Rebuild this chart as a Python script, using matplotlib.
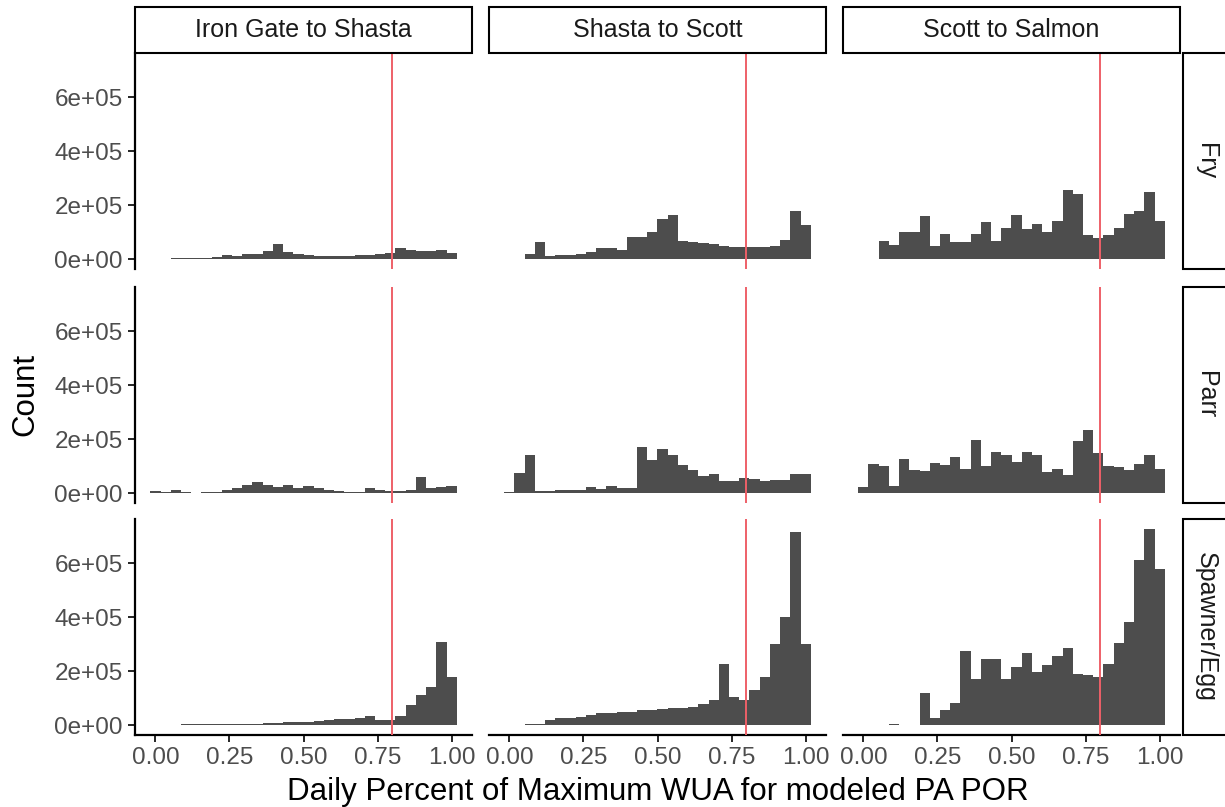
import numpy as np
import matplotlib
matplotlib.use("Agg")
import matplotlib.pyplot as plt
from matplotlib.patches import Rectangle

plt.rcParams['font.family'] = ['Liberation Sans', 'DejaVu Sans']

# ---- data: daily counts per histogram bin (30 bins over 0..1) ----
N_BINS = 30
reaches = ["Iron Gate to Shasta", "Shasta to Scott", "Scott to Salmon"]
life_stages = ["Fry", "Parr", "Spawner/Egg"]
threshold = 0.80
x_ticks = [0.00, 0.25, 0.50, 0.75, 1.00]
x_tick_labels = ["0.00", "0.25", "0.50", "0.75", "1.00"]
y_ticks = [0, 200000, 400000, 600000]
y_tick_labels = ["0e+00", "2e+05", "4e+05", "6e+05"]

fry_iron_gate = [0, 2000, 3000, 4000, 5000, 6000, 7000, 15000, 12000, 18000,
                 20000, 30000, 58000, 27000, 20000, 15000, 12000, 10000, 10000, 12000,
                 15000, 17000, 18000, 22000, 42000, 35000, 30000, 30000, 33000, 22000]
fry_shasta = [0, 2000, 18000, 65000, 12000, 14000, 17000, 20000, 25000, 43000,
              43000, 35000, 84000, 84000, 100000, 148000, 164000, 68000, 64000, 60000,
              55000, 50000, 46000, 46000, 46000, 47000, 50000, 70000, 180000, 126000]
fry_scott = [0, 2000, 68000, 52000, 101000, 101000, 160000, 49000, 93000, 62000,
             62000, 95000, 136000, 68000, 115000, 163000, 111000, 132000, 99000, 142000,
             256000, 241000, 89000, 80000, 89000, 114000, 167000, 177000, 249000, 140000]

parr_iron_gate = [7000, 5000, 11000, 3000, 2000, 3000, 6000, 12000, 18000, 32000,
                  42000, 32000, 23000, 30000, 20000, 27000, 19000, 12000, 7000, 5000,
                  5000, 20000, 10000, 8000, 8000, 10000, 59000, 20000, 22000, 26000]
parr_shasta = [5000, 75000, 143000, 8000, 8000, 10000, 10000, 12000, 23000, 17000,
               26000, 20000, 20000, 170000, 122000, 165000, 140000, 104000, 85000, 62000,
               72000, 47000, 47000, 57000, 54000, 47000, 48000, 50000, 72000, 72000]
parr_scott = [22000, 110000, 100000, 26000, 125000, 85000, 81000, 112000, 106000, 135000,
              88000, 196000, 100000, 152000, 140000, 116000, 153000, 141000, 78000, 90000,
              69000, 193000, 236000, 149000, 102000, 96000, 85000, 110000, 143000, 90000]

spawn_iron_gate = [0, 0, 2000, 3000, 3000, 4000, 4000, 5000, 5000, 6000,
                   6000, 7000, 8000, 10000, 10000, 12000, 15000, 20000, 22000, 24000,
                   25000, 33000, 20000, 20000, 33000, 74000, 111000, 140000, 309000, 179000]
spawn_shasta = [0, 2000, 3000, 4000, 20000, 25000, 27000, 30000, 38000, 45000,
                47000, 50000, 50000, 55000, 58000, 60000, 62000, 65000, 68000, 80000,
                95000, 228000, 105000, 95000, 130000, 179000, 300000, 400000, 715000, 300000]
spawn_scott = [0, 0, 2000, 4000, 2000, 2000, 120000, 25000, 56000, 83000,
               274000, 173000, 247000, 245000, 173000, 214000, 268000, 198000, 222000, 256000,
               286000, 191000, 185000, 177000, 226000, 305000, 383000, 611000, 728000, 580000]

counts = {
    ("Fry", "Iron Gate to Shasta"): fry_iron_gate,
    ("Fry", "Shasta to Scott"): fry_shasta,
    ("Fry", "Scott to Salmon"): fry_scott,
    ("Parr", "Iron Gate to Shasta"): parr_iron_gate,
    ("Parr", "Shasta to Scott"): parr_shasta,
    ("Parr", "Scott to Salmon"): parr_scott,
    ("Spawner/Egg", "Iron Gate to Shasta"): spawn_iron_gate,
    ("Spawner/Egg", "Shasta to Scott"): spawn_shasta,
    ("Spawner/Egg", "Scott to Salmon"): spawn_scott,
}

# ---- layout (pixels) ----
W, H = 1225, 807
fig = plt.figure(figsize=(W / 100, H / 100), dpi=100)
fig.patch.set_facecolor("white")

col_x = [135, 489, 843]
row_y = [53, 287, 519]
panel_w, panel_h = 337, 216
strip_top_y, strip_top_h = 7, 46
strip_right_x, strip_right_w = 1183, 46


def frac_rect(x, y, w, h):
    return [x / W, 1 - (y + h) / H, w / W, h / H]


bar_color = "#4D4D4D"
line_color = "#EE6068"
tick_color = "#4D4D4D"

centers = np.linspace(0, 1, N_BINS)
binw = centers[1] - centers[0]
span = 1 + binw
x_lo = -binw / 2 - 0.05 * span
x_hi = 1 + binw / 2 + 0.05 * span
ymax = max(max(v) for v in counts.values())
y_lo, y_hi = -0.05 * ymax, 1.05 * ymax

for i, stage in enumerate(life_stages):
    for j, reach in enumerate(reaches):
        ax = fig.add_axes(frac_rect(col_x[j], row_y[i], panel_w, panel_h))
        ax.bar(centers, counts[(stage, reach)], width=binw * 1.01, color=bar_color,
               linewidth=0, align="center", zorder=2)
        ax.axvline(threshold, color=line_color, lw=1.4, zorder=3)
        ax.set_xlim(x_lo, x_hi)
        ax.set_ylim(y_lo, y_hi)
        for s in ("top", "right"):
            ax.spines[s].set_visible(False)
        ax.spines["left"].set_visible(j == 0)
        ax.spines["bottom"].set_visible(i == 2)
        ax.spines["left"].set_linewidth(1.6)
        ax.spines["bottom"].set_linewidth(1.6)
        ax.set_xticks(x_ticks)
        ax.set_yticks(y_ticks)
        if i == 2:
            ax.set_xticklabels(x_tick_labels)
            ax.tick_params(axis="x", length=5, width=1.2, pad=3.5,
                           labelsize=17.5, labelcolor=tick_color)
        else:
            ax.tick_params(axis="x", length=0, labelbottom=False)
        if j == 0:
            ax.set_yticklabels(y_tick_labels)
            ax.tick_params(axis="y", length=5, width=1.2, pad=4,
                           labelsize=17.5, labelcolor=tick_color)
        else:
            ax.tick_params(axis="y", length=0, labelleft=False)
        ax.set_facecolor("none")

# top strips (reach)
for j, reach in enumerate(reaches):
    x0, y0 = col_x[j], strip_top_y
    fig.add_artist(Rectangle((x0 / W, 1 - (y0 + strip_top_h) / H), panel_w / W,
                             strip_top_h / H, transform=fig.transFigure,
                             facecolor="white", edgecolor="black", lw=1.5))
    fig.text((x0 + panel_w / 2) / W, 1 - (y0 + strip_top_h / 2) / H, reach,
             ha="center", va="center", fontsize=18, color="#1A1A1A")

# right strips (life stage)
for i, stage in enumerate(life_stages):
    y0 = row_y[i]
    fig.add_artist(Rectangle((strip_right_x / W, 1 - (y0 + panel_h) / H),
                             strip_right_w / W, panel_h / H,
                             transform=fig.transFigure, facecolor="white",
                             edgecolor="black", lw=1.5, clip_on=False))
    fig.text((strip_right_x + strip_right_w / 2) / W, 1 - (y0 + panel_h / 2) / H,
             stage, ha="center", va="center", rotation=-90, fontsize=18,
             color="#1A1A1A")

fig.text(25 / W, 1 - 394 / H, "Count", rotation=90, ha="center", va="center",
         fontsize=22.5)
fig.text((col_x[0] + col_x[2] + panel_w) / 2 / W, 1 - 800 / H,
         "Daily Percent of Maximum WUA for modeled PA POR",
         ha="center", va="baseline", fontsize=22.5)

fig.savefig("out.png", dpi=100)
